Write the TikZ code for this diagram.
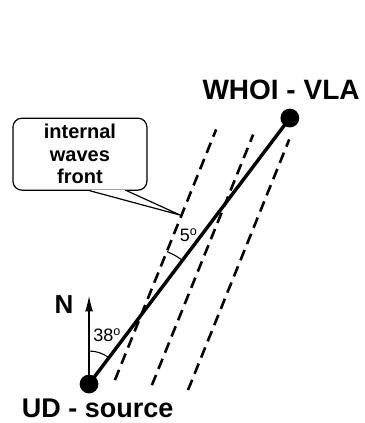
\documentclass[tikz,border=0pt]{standalone}
\usepackage{fontspec}
\setmainfont{Liberation Sans}
\usetikzlibrary{arrows.meta,calc}

\begin{document}
\begin{tikzpicture}[line width=1.1pt,>={Latex[length=5.5mm,width=2.8mm]},
  front/.style={line width=2.6pt,dash pattern=on 11pt off 6.5pt},
  station/.style={circle,fill=black,inner sep=0pt,minimum size=0.66cm},
  bubble/.style={draw,line width=1.2pt,rounded corners=9pt,minimum width=4.71cm,minimum height=2.53cm,
    align=center,font=\fontsize{20}{22.5}\selectfont\bfseries},
  big/.style={font=\fontsize{28}{30}\selectfont\bfseries},
  deg/.style={font=\fontsize{18}{20}\selectfont}]
  \useasboundingbox (-3.13,-1.37) rectangle (9.67,13.5);
  % frentes de ondas internas
  \foreach \p in {(0.91,0.14),(2.21,-0.04),(3.48,-0.21)} \draw[front] \p -- ++(68:9.5);
  % trayecto fuente - receptor
  \node[station] (src) at (0,0) {};
  \node[station] (vla) at (7.06,9.35) {};
  \draw[line width=3.4pt] (src.center) -- (vla.center);
  \node[big] (vlalab) at (6.75,10.33) {WHOI - VLA};
  \node[font=\fontsize{27}{29}\selectfont\bfseries] (srclab) at (0.3,-0.87) {UD - source};
  % norte y angulo 38
  \coordinate (north) at (0,3.1);
  \draw[->] (src.center) -- (north);
  \node[font=\fontsize{26}{28}\selectfont\bfseries] (nlab) at (-0.88,2.78) {N};
  \draw (0,1.16) arc[start angle=90,end angle=53,radius=1.16];
  \node[deg] (a38) at (0.64,1.72) {38\textsuperscript{o}};
  % angulo 5 entre frente y trayecto
  \coordinate (x) at ($(src)!0.261!(vla)$);
  \draw (x) ++(68:2.39) arc[start angle=68,end angle=53,radius=2.39];
  \node[deg] (a5) at (3.5,5.22) {5\textsuperscript{o}};
  % globo
  \node[bubble] (wave) at (-0.32,8.08) {internal\\waves\\front};
  \coordinate (tip) at (3.2,5.94);
  \draw[white,line width=2.2pt] ([xshift=0.4cm]wave.south) -- ([xshift=1.6cm]wave.south);
  \draw[line width=1.2pt] ([xshift=0.35cm]wave.south) -- (tip) -- ([xshift=1.65cm]wave.south);
\end{tikzpicture}
\end{document}
